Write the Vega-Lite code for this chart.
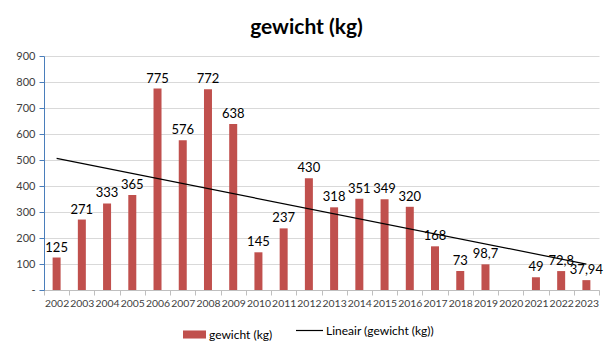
{
  "$schema": "https://vega.github.io/schema/vega-lite/v6.json",
  "autosize": "none",
  "width": 555,
  "height": 234,
  "padding": {"left": 44, "top": 56, "right": 13, "bottom": 64},
  "background": "white",
  "title": {
    "text": "gewicht (kg)",
    "fontSize": 21,
    "font": "Lato",
    "fontWeight": "bold",
    "color": "#000000",
    "anchor": "middle",
    "dx": -15,
    "offset": 12
  },
  "config": {
    "view": {"stroke": null},
    "font": "Lato"
  },
  "datasets": {
    "bars": [
      {"year": "2002", "kg": 125, "label": "125"},
      {"year": "2003", "kg": 271, "label": "271"},
      {"year": "2004", "kg": 333, "label": "333"},
      {"year": "2005", "kg": 365, "label": "365"},
      {"year": "2006", "kg": 775, "label": "775"},
      {"year": "2007", "kg": 576, "label": "576"},
      {"year": "2008", "kg": 772, "label": "772"},
      {"year": "2009", "kg": 638, "label": "638"},
      {"year": "2010", "kg": 145, "label": "145"},
      {"year": "2011", "kg": 237, "label": "237"},
      {"year": "2012", "kg": 430, "label": "430"},
      {"year": "2013", "kg": 318, "label": "318"},
      {"year": "2014", "kg": 351, "label": "351"},
      {"year": "2015", "kg": 349, "label": "349"},
      {"year": "2016", "kg": 320, "label": "320"},
      {"year": "2017", "kg": 168, "label": "168"},
      {"year": "2018", "kg": 73, "label": "73"},
      {"year": "2019", "kg": 98.7, "label": "98,7"},
      {"year": "2020", "kg": null, "label": ""},
      {"year": "2021", "kg": 49, "label": "49"},
      {"year": "2022", "kg": 72.8, "label": "72,8"},
      {"year": "2023", "kg": 37.94, "label": "37,94"}
    ],
    "trend": [
      {"year": "2002", "trend": 506, "series": "Lineair (gewicht (kg))"},
      {"year": "2023", "trend": 99.7, "series": "Lineair (gewicht (kg))"}
    ]
  },
  "encoding": {
    "x": {
      "field": "year",
      "type": "ordinal",
      "sort": null,
      "title": null,
      "scale": {
        "domain": ["2002","2003","2004","2005","2006","2007","2008","2009","2010","2011","2012","2013","2014","2015","2016","2017","2018","2019","2020","2021","2022","2023"],
        "paddingInner": 0,
        "paddingOuter": 0
      },
      "axis": {
        "labelAngle": 0,
        "labelFontSize": 10.4,
        "labelColor": "#404040",
        "labelPadding": 3,
        "labelOverlap": false,
        "domainColor": "#BFBFBF",
        "tickColor": "#BFBFBF",
        "tickBand": "extent",
        "tickSize": 5,
        "grid": false
      }
    },
    "y": {
      "field": "kg",
      "type": "quantitative",
      "title": null,
      "scale": {"domain": [0, 900]},
      "axis": {
        "values": [0, 100, 200, 300, 400, 500, 600, 700, 800, 900],
        "labelExpr": "datum.value == 0 ? '-' : datum.label",
        "labelOverlap": false,
        "labelFontSize": 11,
        "labelColor": "#404040",
        "labelPadding": 4,
        "domainColor": "#4A7EBB",
        "tickColor": "#4A7EBB",
        "tickSize": 5,
        "gridColor": "#D9D9D9",
        "gridWidth": 1
      }
    }
  },
  "layer": [
    {
      "data": {"name": "bars"},
      "mark": {"type": "bar", "size": 8, "color": "#C0504D"},
      "encoding": {
        "fill": {
          "datum": "gewicht (kg)",
          "type": "nominal",
          "scale": {"range": ["#C0504D"]},
          "legend": {
            "orient": "none",
            "legendX": 139,
            "legendY": 267,
            "title": null,
            "padding": 0,
            "symbolType": "M-1,-0.35H1V0.35H-1Z",
            "symbolSize": 529,
            "symbolStrokeWidth": 0,
            "labelFontSize": 12,
            "labelColor": "#000000",
            "labelOffset": 3
          }
        }
      }
    },
    {
      "data": {"name": "bars"},
      "mark": {"type": "text", "baseline": "bottom", "dy": -3, "fontSize": 13, "color": "#000000"},
      "encoding": {
        "text": {"field": "label"}
      }
    },
    {
      "data": {"name": "trend"},
      "mark": {"type": "line", "strokeWidth": 1.2},
      "encoding": {
        "y": {"field": "trend", "type": "quantitative"},
        "stroke": {
          "field": "series",
          "type": "nominal",
          "scale": {"range": ["#000000"]},
          "legend": {
            "orient": "none",
            "legendX": 251,
            "legendY": 260,
            "title": null,
            "padding": 0,
            "symbolType": "stroke",
            "symbolSize": 729,
            "symbolStrokeWidth": 1.2,
            "labelFontSize": 12,
            "labelColor": "#000000",
            "labelOffset": 2
          }
        }
      }
    }
  ]
}
